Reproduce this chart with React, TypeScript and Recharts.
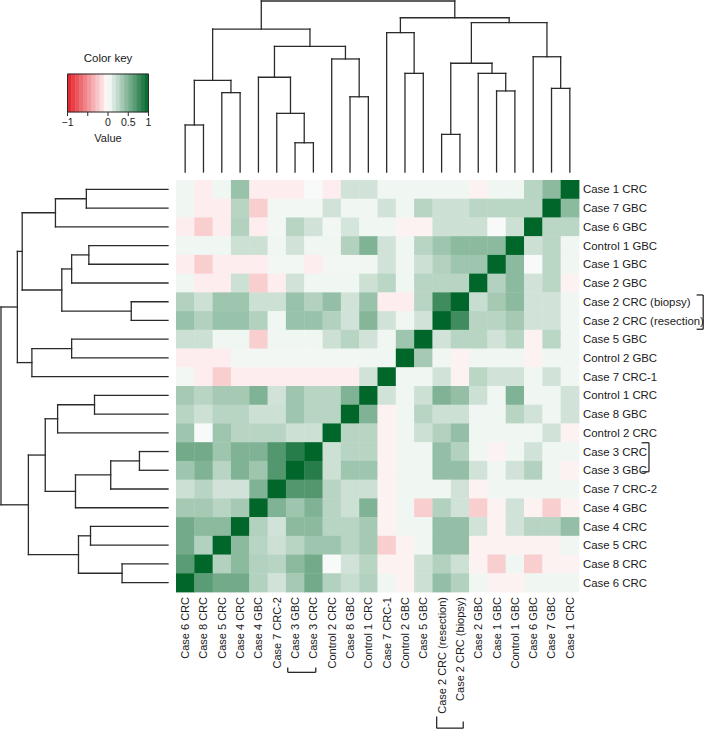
import React from 'react';
import { ScatterChart, Scatter, XAxis, YAxis, ReferenceLine, ReferenceArea } from 'recharts';

const FONT = '"Liberation Sans", Arial, Helvetica, sans-serif';

// row order of the heatmap (top to bottom)
const rowLabels = [
  'Case 1 CRC', 'Case 7 GBC', 'Case 6 GBC', 'Control 1 GBC', 'Case 1 GBC', 'Case 2 GBC',
  'Case 2 CRC (biopsy)', 'Case 2 CRC (resection)', 'Case 5 GBC', 'Control 2 GBC', 'Case 7 CRC-1',
  'Control 1 CRC', 'Case 8 GBC', 'Control 2 CRC', 'Case 3 CRC', 'Case 3 GBC', 'Case 7 CRC-2',
  'Case 4 GBC', 'Case 4 CRC', 'Case 5 CRC', 'Case 8 CRC', 'Case 6 CRC',
];

// column order (left to right)
const colLabels = [
  'Case 6 CRC', 'Case 8 CRC', 'Case 5 CRC', 'Case 4 CRC', 'Case 4 GBC', 'Case 7 CRC-2',
  'Case 3 GBC', 'Case 3 CRC', 'Control 2 CRC', 'Case 8 GBC', 'Control 1 CRC', 'Case 7 CRC-1',
  'Control 2 GBC', 'Case 5 GBC', 'Case 2 CRC (resection)', 'Case 2 CRC (biopsy)', 'Case 2 GBC',
  'Case 1 GBC', 'Control 1 GBC', 'Case 6 GBC', 'Case 7 GBC', 'Case 1 CRC',
];

// correlation values, one row per rowLabels entry, columns in colLabels order
const corr: number[][] = [
  [0.06, -0.08, 0.06, 0.4, -0.08, -0.08, -0.08, 0.03, -0.08, 0.18, 0.18, 0.06, 0.06, 0.06, 0.06, 0.06, -0.06, 0.06, 0.06, 0.28, 0.45, 1],
  [0.06, -0.08, -0.08, 0.28, -0.22, 0.05, 0.05, 0.05, 0.18, 0.06, 0.06, 0.18, 0.06, 0.28, 0.2, 0.2, 0.27, 0.27, 0.27, 0.27, 1, 0.45],
  [-0.08, -0.22, -0.08, 0.3, -0.08, 0.05, 0.28, 0.18, 0.05, 0.17, 0.06, 0.06, -0.06, -0.06, 0.2, 0.2, 0.2, 0.03, 0.2, 1, 0.27, 0.27],
  [0.06, 0.06, 0.06, 0.2, 0.2, 0.06, 0.18, 0.06, 0.06, 0.3, 0.5, 0.18, 0.06, 0.28, 0.38, 0.45, 0.45, 0.45, 1, 0.2, 0.27, 0.06],
  [-0.08, -0.22, -0.08, -0.08, -0.08, 0.05, 0.05, -0.08, 0.05, 0.05, 0.06, 0.18, 0.06, 0.2, 0.3, 0.38, 0.38, 1, 0.45, 0.03, 0.27, 0.06],
  [0.06, -0.08, -0.08, 0.2, -0.22, -0.08, 0.18, 0.06, 0.06, 0.06, 0.2, 0.27, 0.06, 0.28, 0.28, 0.28, 1, 0.3, 0.45, 0.18, 0.27, -0.06],
  [0.3, 0.2, 0.38, 0.38, 0.2, 0.2, 0.4, 0.3, 0.42, 0.18, 0.4, -0.08, -0.08, 0.28, 0.75, 1, 0.22, 0.35, 0.45, 0.18, 0.18, 0.06],
  [0.4, 0.3, 0.4, 0.4, 0.3, 0.06, 0.4, 0.4, 0.3, 0.18, 0.48, 0.18, 0.06, 0.18, 1, 0.75, 0.28, 0.28, 0.35, 0.18, 0.18, 0.06],
  [0.2, 0.2, 0.06, 0.06, -0.22, 0.06, 0.06, 0.06, 0.2, 0.28, 0.18, 0.06, 0.38, 1, 0.18, 0.28, 0.28, 0.18, 0.28, -0.06, 0.27, 0.06],
  [-0.08, -0.08, -0.08, 0.05, 0.05, 0.05, 0.05, 0.05, 0.05, 0.05, 0.06, 0.06, 1, 0.35, 0.06, -0.06, 0.06, 0.06, 0.06, -0.06, 0.06, 0.06],
  [0.05, -0.08, -0.22, -0.08, -0.08, -0.08, -0.08, -0.08, -0.08, -0.08, 0.18, 1, 0.06, 0.06, 0.18, -0.06, 0.27, 0.18, 0.18, 0.06, 0.18, 0.06],
  [0.35, 0.28, 0.35, 0.35, 0.5, 0.18, 0.38, 0.28, 0.28, 0.5, 1, 0.18, 0.06, 0.2, 0.5, 0.42, 0.2, 0.06, 0.5, 0.06, 0.06, 0.18],
  [0.28, 0.2, 0.28, 0.28, 0.2, 0.2, 0.38, 0.28, 0.28, 1, 0.5, -0.06, 0.06, 0.28, 0.2, 0.2, 0.06, 0.06, 0.28, 0.18, 0.06, 0.18],
  [0.38, 0.03, 0.38, 0.28, 0.28, 0.28, 0.2, 0.2, 1, 0.28, 0.28, -0.06, 0.06, 0.2, 0.3, 0.42, 0.06, 0.06, 0.06, 0.06, 0.18, -0.06],
  [0.55, 0.55, 0.38, 0.5, 0.5, 0.68, 0.85, 1, 0.2, 0.28, 0.28, -0.06, 0.06, 0.06, 0.42, 0.3, 0.06, -0.06, 0.06, 0.18, 0.06, 0.06],
  [0.38, 0.5, 0.28, 0.5, 0.38, 0.68, 1, 0.85, 0.2, 0.38, 0.38, -0.06, 0.06, 0.06, 0.42, 0.42, 0.18, 0.06, 0.18, 0.3, 0.06, -0.06],
  [0.2, 0.28, 0.18, 0.18, 0.5, 1, 0.68, 0.68, 0.28, 0.2, 0.2, -0.06, 0.06, 0.06, 0.06, 0.18, -0.06, 0.06, 0.06, 0.06, 0.06, 0.06],
  [0.35, 0.35, 0.28, 0.35, 1, 0.5, 0.38, 0.5, 0.28, 0.2, 0.5, -0.06, 0.06, -0.22, 0.3, 0.18, -0.22, -0.06, 0.18, -0.06, -0.22, -0.06],
  [0.55, 0.45, 0.45, 1, 0.3, 0.18, 0.45, 0.45, 0.28, 0.28, 0.35, -0.06, 0.06, 0.06, 0.42, 0.42, 0.18, -0.06, 0.18, 0.28, 0.28, 0.42],
  [0.55, 0.3, 1, 0.45, 0.28, 0.2, 0.28, 0.38, 0.38, 0.28, 0.35, -0.22, -0.06, 0.06, 0.42, 0.42, -0.06, -0.06, -0.06, -0.06, -0.06, 0.06],
  [0.65, 1, 0.3, 0.45, 0.3, 0.28, 0.45, 0.55, 0.03, 0.18, 0.28, -0.06, -0.06, 0.2, 0.3, 0.2, -0.06, -0.22, 0.06, -0.22, -0.06, -0.06],
  [1, 0.65, 0.55, 0.55, 0.3, 0.18, 0.35, 0.55, 0.3, 0.22, 0.3, 0.06, -0.06, 0.2, 0.42, 0.3, 0.06, -0.06, -0.06, 0.06, 0.06, 0.06],
];

// hierarchical clustering: [left, right, height]; numbers are leaf columns, 'mN' is merge N
type Ref = number | string;
const merges: [Ref, Ref, number][] = [
  [0, 1, 0.275],
  [2, 3, 0.464],
  ['m0', 'm1', 0.536],
  [6, 7, 0.171],
  [5, 'm3', 0.343],
  [4, 'm4', 0.554],
  [9, 10, 0.44],
  [8, 'm6', 0.661],
  ['m5', 'm7', 0.735],
  ['m2', 'm8', 0.836],
  [12, 13, 0.577],
  [11, 'm10', 0.815],
  [14, 15, 0.22],
  [17, 18, 0.474],
  [16, 'm13', 0.577],
  ['m12', 'm14', 0.636],
  [20, 21, 0.489],
  [19, 'm16', 0.674],
  ['m15', 'm17', 0.873],
  ['m11', 'm18', 0.902],
  ['m9', 'm19', 1.0],
];

// colour key
const keyBreaks = [-1, -0.9, -0.8, -0.7, -0.6, -0.5, -0.4, -0.3, -0.2, -0.1, 0, 0.1, 0.2, 0.3, 0.4, 0.5, 0.6, 0.7, 0.8, 0.9, 1];
const keyTicks = [-1, -0.5, 0, 0.5, 1];
const keyTickLabels = ['\u22121', '', '0', '0.5', '1'];

// brackets pairing the same patient's samples
const rowBrackets = [
  { from: 6.14, to: 7.97, at: 28.78, tick: 0.36 },
  { from: 14.03, to: 15.58, at: 25.82, tick: 0.4 },
];
const colBrackets = [
  { from: 6.1, to: 7.63, at: 26.29, tickL: 0.26, tickR: 0.26 },
  { from: 14.23, to: 15.68, at: 29.27, tickL: 0.62, tickR: 0.35 },
];

const RED = [228, 30, 38];
const GREEN = [0, 102, 42];
function colorFor(v: number) {
  const t = Math.min(1, Math.abs(v));
  const end = v < 0 ? RED : GREEN;
  const c = end.map((e) => Math.round(255 + (e - 255) * t));
  return `rgb(${c[0]},${c[1]},${c[2]})`;
}

const W = 709;
const H = 730;
const PLOT_L = 176;
const PLOT_R = 579;
const PLOT_T = 180;
const PLOT_B = 592;
const CELL_W = (PLOT_R - PLOT_L) / colLabels.length;
const CELL_H = (PLOT_B - PLOT_T) / rowLabels.length;
const LINE = '#2b2b2b';

const cells = rowLabels.flatMap((_, r) =>
  colLabels.map((_, c) => ({ x: c + 0.5, y: r + 0.5, v: corr[r][c] }))
);
const colTicks = colLabels.map((_, i) => i + 0.5);
const rowTicks = rowLabels.map((_, i) => i + 0.5);

// dendrogram segments in (leaf position, height) space
function treeSegments() {
  const pos: Record<string, number> = {};
  const hgt: Record<string, number> = {};
  const get = (r: Ref) => (typeof r === 'number' ? { p: r + 0.5, h: 0 } : { p: pos[r], h: hgt[r] });
  const segs: { p1: number; h1: number; p2: number; h2: number }[] = [];
  merges.forEach(([a, b, h], i) => {
    const A = get(a);
    const B = get(b);
    segs.push({ p1: A.p, h1: A.h, p2: A.p, h2: h });
    segs.push({ p1: B.p, h1: B.h, p2: B.p, h2: h });
    segs.push({ p1: A.p, h1: h, p2: B.p, h2: h });
    pos['m' + i] = (A.p + B.p) / 2;
    hgt['m' + i] = h;
  });
  return segs;
}
const segs = treeSegments();
const leafPoints = colLabels.map((_, i) => ({ x: i + 0.5, y: 0 }));

const CellShape = (props: any) => (
  <rect
    x={props.cx - CELL_W / 2}
    y={props.cy - CELL_H / 2}
    width={CELL_W + 0.4}
    height={CELL_H + 0.4}
    fill={colorFor(props.payload.v)}
  />
);

const ColTick = ({ x, y, payload }: any) => (
  <text
    transform={`translate(${x},${y}) rotate(-90)`}
    textAnchor="end"
    dy="0.36em"
    fontSize={11}
    fontFamily={FONT}
    fill="#1a1a1a"
  >
    {colLabels[Math.floor(payload.value)]}
  </text>
);

const RowTick = ({ x, y, payload }: any) => (
  <text x={x} y={y} dy="0.36em" textAnchor="start" fontSize={11.4} fontFamily={FONT} fill="#1a1a1a">
    {rowLabels[Math.floor(payload.value)]}
  </text>
);

const Empty = () => <g />;

export default function App() {
  return (
    <div style={{ position: 'absolute', left: 0, top: 0, width: W, height: H, background: '#fff', fontFamily: FONT }}>
      {/* heatmap */}
      <div style={{ position: 'absolute', left: 0, top: 0 }}>
        <ScatterChart
          width={W}
          height={H}
          margin={{ top: PLOT_T, left: PLOT_L, right: 10, bottom: 8 }}
        >
          <XAxis
            type="number"
            dataKey="x"
            domain={[0, 22]}
            ticks={colTicks}
            interval={0}
            tick={<ColTick />}
            tickLine={false}
            axisLine={false}
            tickSize={0}
            tickMargin={5}
            height={H - 8 - PLOT_B}
          />
          <YAxis
            type="number"
            dataKey="y"
            domain={[0, 22]}
            reversed
            orientation="right"
            ticks={rowTicks}
            interval={0}
            tick={<RowTick />}
            tickLine={false}
            axisLine={false}
            tickSize={0}
            tickMargin={4}
            width={W - 10 - PLOT_R}
          />
          <Scatter data={cells} shape={<CellShape />} isAnimationActive={false} />
          {rowBrackets.map((b, i) => (
            <React.Fragment key={`rb-${i}`}>
              <ReferenceLine segment={[{ x: b.at, y: b.from }, { x: b.at, y: b.to }]} stroke={LINE} strokeWidth={1.3} ifOverflow="visible" />
              <ReferenceLine segment={[{ x: b.at - b.tick, y: b.from }, { x: b.at, y: b.from }]} stroke={LINE} strokeWidth={1.3} ifOverflow="visible" />
              <ReferenceLine segment={[{ x: b.at - b.tick, y: b.to }, { x: b.at, y: b.to }]} stroke={LINE} strokeWidth={1.3} ifOverflow="visible" />
            </React.Fragment>
          ))}
          {colBrackets.map((b, i) => (
            <React.Fragment key={`cb-${i}`}>
              <ReferenceLine segment={[{ x: b.from, y: b.at }, { x: b.to, y: b.at }]} stroke={LINE} strokeWidth={1.3} ifOverflow="visible" />
              <ReferenceLine segment={[{ x: b.from, y: b.at - b.tickL }, { x: b.from, y: b.at }]} stroke={LINE} strokeWidth={1.3} ifOverflow="visible" />
              <ReferenceLine segment={[{ x: b.to, y: b.at - b.tickR }, { x: b.to, y: b.at }]} stroke={LINE} strokeWidth={1.3} ifOverflow="visible" />
            </React.Fragment>
          ))}
        </ScatterChart>
      </div>

      {/* column dendrogram */}
      <div style={{ position: 'absolute', left: 0, top: 0 }}>
        <ScatterChart width={W} height={PLOT_T} margin={{ top: 1, left: PLOT_L, right: W - PLOT_R, bottom: 8 }}>
          <XAxis type="number" dataKey="x" domain={[0, 22]} hide />
          <YAxis type="number" dataKey="y" domain={[0, 1]} hide />
          <Scatter data={leafPoints} shape={<Empty />} isAnimationActive={false} />
          {segs.map((s, i) => (
            <ReferenceLine
              key={`ct-${i}`}
              segment={[{ x: s.p1, y: s.h1 }, { x: s.p2, y: s.h2 }]}
              stroke={LINE}
              strokeWidth={1.3}
              strokeLinecap="square"
              ifOverflow="visible"
            />
          ))}
        </ScatterChart>
      </div>

      {/* row dendrogram */}
      <div style={{ position: 'absolute', left: 0, top: 0 }}>
        <ScatterChart width={PLOT_L} height={H} margin={{ top: PLOT_T, left: 1, right: 8, bottom: H - PLOT_B }}>
          <XAxis type="number" dataKey="y" domain={[0, 1]} reversed hide />
          <YAxis type="number" dataKey="x" domain={[0, 22]} reversed hide />
          <Scatter data={leafPoints} shape={<Empty />} isAnimationActive={false} />
          {segs.map((s, i) => (
            <ReferenceLine
              key={`rt-${i}`}
              segment={[{ x: s.h1, y: 22 - s.p1 }, { x: s.h2, y: 22 - s.p2 }]}
              stroke={LINE}
              strokeWidth={1.3}
              strokeLinecap="square"
              ifOverflow="visible"
            />
          ))}
        </ScatterChart>
      </div>

      {/* colour key */}
      <div
        style={{
          position: 'absolute',
          left: 48,
          top: 52,
          width: 120,
          textAlign: 'center',
          fontSize: 11.5,
          color: '#1a1a1a',
        }}
      >
        Color key
      </div>
      <div style={{ position: 'absolute', left: 0, top: 0 }}>
        <ScatterChart width={200} height={146} margin={{ top: 74, left: 67.5, right: 51.5, bottom: 4 }}>
          <XAxis
            type="number"
            dataKey="x"
            domain={[-1, 1]}
            ticks={keyTicks}
            interval={0}
            tickFormatter={(v: number) => keyTickLabels[keyTicks.indexOf(v)]}
            tick={{ fontSize: 10.5, fill: '#1a1a1a', fontFamily: FONT }}
            tickLine={{ stroke: LINE }}
            tickSize={4}
            tickMargin={3}
            axisLine={false}
            height={30}
            label={{ value: 'Value', position: 'insideBottom', offset: 0, fontSize: 11, fill: '#1a1a1a', fontFamily: FONT }}
          />
          <YAxis type="number" dataKey="y" domain={[0, 1]} hide />
          <Scatter data={leafPoints.slice(0, 1)} shape={<Empty />} isAnimationActive={false} />
          {keyBreaks.slice(0, -1).map((b, i) => (
            <ReferenceArea
              key={`kb-${i}`}
              x1={b}
              x2={keyBreaks[i + 1]}
              y1={0}
              y2={1}
              fill={colorFor((b + keyBreaks[i + 1]) / 2)}
              fillOpacity={1}
              stroke={colorFor((b + keyBreaks[i + 1]) / 2)}
              strokeWidth={0.5}
            />
          ))}
          <ReferenceArea x1={-1} x2={1} y1={0} y2={1} fill="none" stroke={LINE} strokeWidth={1} />
        </ScatterChart>
      </div>
    </div>
  );
}
